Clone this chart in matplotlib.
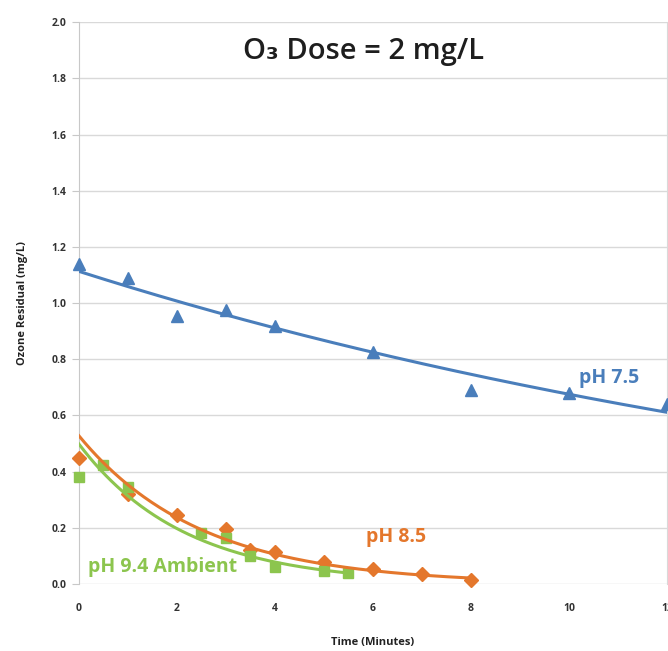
import numpy as np
import matplotlib.pyplot as plt

plt.rcParams['font.family'] = ['Open Sans', 'DejaVu Sans']

# ozone residual measurements (mg/L) vs time (minutes)
t_75 = [0, 1, 2, 3, 4, 6, 8, 10, 12]
y_75 = [1.14, 1.09, 0.955, 0.975, 0.92, 0.825, 0.69, 0.68, 0.64]

t_85 = [0, 1, 2, 3, 3.5, 4, 5, 6, 7, 8]
y_85 = [0.45, 0.32, 0.245, 0.195, 0.12, 0.115, 0.08, 0.055, 0.035, 0.015]

t_94 = [0, 0.5, 1, 2.5, 3, 3.5, 4, 5, 5.5]
y_94 = [0.38, 0.425, 0.345, 0.18, 0.165, 0.10, 0.06, 0.045, 0.04]

c_blue = '#4a7ebb'
c_orange = '#e4772c'
c_green = '#8cc54e'


def exp_trend(t, y, t_end):
    # exponential trendline: least squares on log(y)
    k, ln_a = np.polyfit(t, np.log(y), 1)
    tt = np.linspace(0, t_end, 200)
    return tt, np.exp(ln_a) * np.exp(k * tt)


fig = plt.figure(figsize=(6.68, 6.51), dpi=100)
ax = fig.add_axes([0.118, 0.1029, 0.8805, 0.863])

for t, y, c, m, ms, t_end in [
    (t_75, y_75, c_blue, '^', 9, 12),
    (t_85, y_85, c_orange, 'D', 7, 8),
    (t_94, y_94, c_green, 's', 7.5, 5.5),
]:
    ax.plot(t, y, linestyle='none', marker=m, markersize=ms, color=c,
            markeredgecolor=c, clip_on=False, zorder=3)
    tt, yy = exp_trend(t, y, t_end)
    ax.plot(tt, yy, color=c, linewidth=2.2, zorder=4)

ax.set_xlim(0, 12)
ax.set_ylim(0, 2.0)
ax.set_xticks(range(0, 13, 2))
ax.set_yticks(np.arange(0, 2.01, 0.2))
ax.set_yticklabels([f'{v:.1f}' for v in np.arange(0, 2.01, 0.2)])
ax.yaxis.grid(True, color='#d9d9d9', linewidth=1)
ax.set_axisbelow(True)

for s in ['top', 'bottom']:
    ax.spines[s].set_visible(False)
ax.spines['left'].set_color('#c8c8c8')
ax.spines['right'].set_color('#d9d9d9')
ax.tick_params(axis='y', length=5, color='#c8c8c8', labelsize=7.5,
               labelcolor='#333333', pad=4)
ax.tick_params(axis='x', length=0, labelsize=7.5, labelcolor='#333333', pad=14)
for lab in ax.get_xticklabels() + ax.get_yticklabels():
    lab.set_fontweight('bold')

ax.set_xlabel('Time (Minutes)', fontsize=8, fontweight='bold',
              color='#222222', labelpad=16)
ax.set_ylabel('Ozone Residual (mg/L)', fontsize=8, fontweight='bold',
              color='#222222', labelpad=17)

ax.text(5.8, 1.895, 'O₃ Dose = 2 mg/L', fontsize=21, fontweight='semibold',
        ha='center', va='center', color='#1e1e1e')
ax.text(10.2, 0.735, 'pH 7.5', fontsize=14, fontweight='bold',
        color=c_blue, va='center')
ax.text(5.85, 0.167, 'pH 8.5', fontsize=14, fontweight='bold',
        color=c_orange, va='center')
ax.text(0.18, 0.06, 'pH 9.4 Ambient', fontsize=14, fontweight='bold',
        color=c_green, va='center')

fig.savefig('out.png', dpi=100)
